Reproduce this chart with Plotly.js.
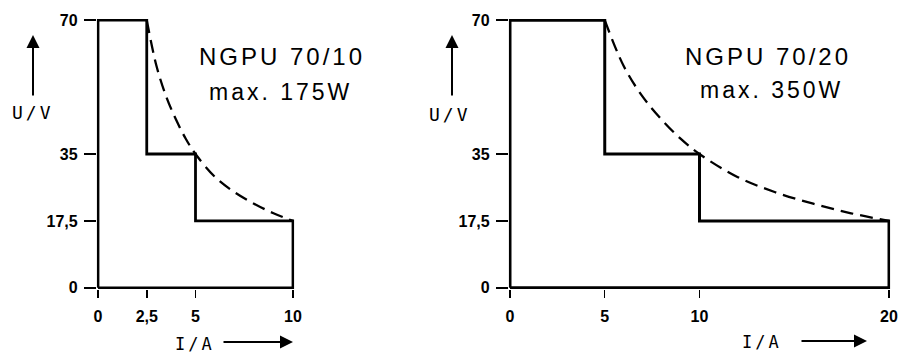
<!DOCTYPE html>
<html>
<head>
<meta charset="utf-8">
<script src="https://cdn.plot.ly/plotly-3.0.1.min.js"></script>
<style>
  html, body { margin: 0; padding: 0; background: #fff; }
  #chart { width: 901px; height: 355px; }
  .annotation-text { letter-spacing: 3px; }
</style>
</head>
<body>
<div id="chart"></div>
<script>
// ---- data ----
// NGPU 70/10 operating area outline
const leftStepI = [0, 0, 2.5, 2.5, 5, 5, 10, 10, 0];
const leftStepU = [0, 70, 70, 35, 35, 17.5, 17.5, 0, 0];
// NGPU 70/10 max. 175 W curve (dashed)
const leftCurveI = [2.5, 3, 3.5, 4, 4.5, 5, 6, 7, 8, 9, 10];
const leftCurveU = [70, 58, 50, 44, 39, 35, 29, 25, 22, 19.5, 17.5];

// NGPU 70/20 operating area outline
const rightStepI = [0, 0, 5, 5, 10, 10, 20, 20, 0];
const rightStepU = [0, 70, 70, 35, 35, 17.5, 17.5, 0, 0];
// NGPU 70/20 max. 350 W curve (dashed)
const rightCurveI = [5, 6, 7, 8, 9, 10, 12, 14, 16, 18, 20];
const rightCurveU = [70, 58, 50, 44, 39, 35, 29, 25, 22, 19.5, 17.5];

// tick labels
const yTickVals = [0, 17.5, 35, 70];
const yTickText = ['0', '17,5', '35', '70'];
const leftXTickVals = [0, 2.5, 5, 10];
const leftXTickText = ['0', '2,5', '5', '10'];
const rightXTickVals = [0, 5, 10, 20];
const rightXTickText = ['0', '5', '10', '20'];

// texts
const leftTitle = 'NGPU 70/10';
const leftPower = 'max. 175W';
const rightTitle = 'NGPU 70/20';
const rightPower = 'max. 350W';
const yLabel = 'U/V';
const xLabel = 'I/A';

// ---- drawing ----
const W = 901, H = 355;
const mT = 19, mB = 66;
const plotH = H - mT - mB;
const px = v => v / W;
const py = v => (H - mB - v) / plotH;

const tickFont = { family: 'Liberation Sans Narrow, Liberation Sans, Arial, sans-serif', size: 16, color: '#000', weight: 'bold' };
const annFont = { family: 'Liberation Sans, Arial, sans-serif', size: 24, color: '#000' };
const annFont2 = { family: 'Liberation Sans, Arial, sans-serif', size: 23, color: '#000' };
const lblFont = { family: 'DejaVu Sans Mono, monospace', size: 17, color: '#000' };

const traces = [
  { x: leftStepI, y: leftStepU, xaxis: 'x', yaxis: 'y', mode: 'lines',
    line: { color: '#000', width: 2.8 }, hoverinfo: 'skip' },
  { x: leftCurveI, y: leftCurveU, xaxis: 'x', yaxis: 'y', mode: 'lines',
    line: { color: '#000', width: 2.3, dash: '13px,7px', shape: 'spline' }, hoverinfo: 'skip' },
  { x: rightStepI, y: rightStepU, xaxis: 'x2', yaxis: 'y2', mode: 'lines',
    line: { color: '#000', width: 3 }, hoverinfo: 'skip' },
  { x: rightCurveI, y: rightCurveU, xaxis: 'x2', yaxis: 'y2', mode: 'lines',
    line: { color: '#000', width: 2.3, dash: '13px,7px', shape: 'spline' }, hoverinfo: 'skip' }
];

const xCommon = {
  tickmode: 'array', ticks: 'outside', ticklen: 8, tickwidth: 1.5, tickcolor: '#000',
  showgrid: false, zeroline: false, showline: false, tickfont: tickFont,
  ticklabelstandoff: 5, fixedrange: true
};
const yCommon = {
  tickmode: 'array', tickvals: yTickVals, ticktext: yTickText,
  ticks: 'outside', ticklen: 12, tickwidth: 2, tickcolor: '#000',
  showgrid: false, zeroline: false, showline: false, tickfont: tickFont,
  ticklabelstandoff: 3, range: [-0.3, 70.3], domain: [0, 1], fixedrange: true
};

function textAnn(text, x, y, font) {
  return { text: text, xref: 'paper', yref: 'paper', x: px(x), y: py(y),
    xanchor: 'center', yanchor: 'middle', showarrow: false, font: font };
}
function arrowAnn(xHead, yHead, ax, ay) {
  return { text: '', xref: 'paper', yref: 'paper', x: px(xHead), y: py(yHead),
    ax: ax, ay: ay, showarrow: true, arrowhead: 2, arrowsize: 1.3, arrowwidth: 2,
    arrowcolor: '#000', standoff: 0 };
}

const layout = {
  width: W, height: H,
  margin: { l: 0, r: 0, t: mT, b: mB, pad: 0 },
  paper_bgcolor: '#fff', plot_bgcolor: '#fff',
  showlegend: false,
  xaxis: Object.assign({}, xCommon, { domain: [0.10747, 0.32649], range: [-0.06, 10.06],
    tickvals: leftXTickVals, ticktext: leftXTickText, anchor: 'y' }),
  yaxis: Object.assign({}, yCommon, { anchor: 'x' }),
  xaxis2: Object.assign({}, xCommon, { domain: [0.56477, 0.98795], range: [-0.06, 20.06],
    tickvals: rightXTickVals, ticktext: rightXTickText, anchor: 'y2' }),
  yaxis2: Object.assign({}, yCommon, { anchor: 'x2' }),
  annotations: [
    textAnn(leftTitle, 282, 57, annFont),
    textAnn(leftPower, 280, 92, annFont2),
    textAnn(rightTitle, 768, 56, annFont),
    textAnn(rightPower, 771, 90, annFont2),
    textAnn(yLabel, 33, 113, Object.assign({}, lblFont, { size: 18 })),
    textAnn(yLabel, 450, 114, Object.assign({}, lblFont, { size: 18 })),
    textAnn(xLabel, 195, 344, lblFont),
    textAnn(xLabel, 762, 342, lblFont),
    arrowAnn(33, 35, 0, 62),
    arrowAnn(452, 35, 0, 62),
    arrowAnn(293, 342, -71, 0),
    arrowAnn(867, 341, -67, 0)
  ]
};

Plotly.newPlot('chart', traces, layout, { displayModeBar: false, staticPlot: true });
</script>
</body>
</html>
